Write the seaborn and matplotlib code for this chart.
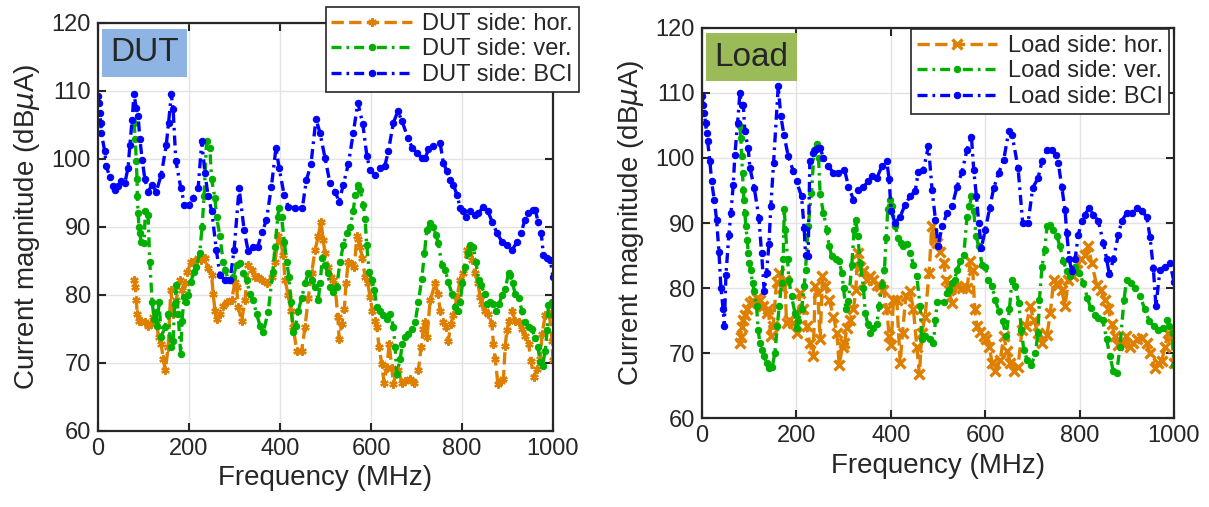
import matplotlib
matplotlib.use('Agg')
from matplotlib import pyplot as plt
import seaborn as sns

# ---- data (frequency MHz, magnitude dBuA) ----
dut_hor = [(79,82.2),(82,81.2),(84,79.2),(86.4,77.2),(90,76.2),(95,76.2),(102.6,76),(110,75.5),(115.7,75.7),(121,76.7),
           (128,76.2),(133,73.8),(139,72.8),(143,70.6),(148,68.9),(154,72.3),(160,80.7),(165,77.2),(172,79.2),(179.5,82.2),
           (184.6,80.7),(190.5,81.7),(196,83.4),(205,84.9),(212,84.9),(220,85.4),(227,85.1),(235,85.4),(242,83.9),(249.5,82.9),
           (253,80.2),(257,77.7),(260.5,76.5),(268,77.2),(275,78.4),(282.5,78.9),(293.5,79.2),(301,81.9),(304.5,81.2),(308,78.2),
           (315.5,76.2),(323,79.2),(330,84.4),(337.5,83.7),(345,82.7),(352,82.7),(359.5,82.2),(370.5,81.7),(381.5,82.7),(389,84.9),
           (396,88.6),(402,87.8),(407,85.9),(411,82.2),(418,80),(424,77.7),(429,75.3),(436.5,71.8),(447.5,71.8),(455,75.3),
           (462,79.5),(469.5,83.2),(477,86.6),(484,88.6),(490,90.8),(495,88.1),(499,86.1),(506,84.1),(512,82.7),(517,82.2),
           (521,81.4),(527,76.7),(530,73.5),(535.6,75.7),(541.5,78),(545,81.7),(550,84.9),(557.6,84.6),(563.5,84.1),(568.6,88.6),
           (572.3,88.3),(576,87.1),(581,85.4),(587,82.7),(593,81.7),(598,79.7),(603,77.7),(609,76.2),(612.6,75.3),(617.8,72.3),
           (623.6,69.9),(628.7,67.1),(634.6,69.3),(640,72.8),(645.6,69.3),(649.3,66.9),(654.4,68.4),(660.3,68.9),(667.6,67.1),(675,67.4),
           (686,67.6),(695.5,67.1),(704.3,68.9),(710,72.3),(715.3,75),(719,76),(723,73.8),(730,79.2),(741,81.7),(747,80.2),
           (752,77.7),(759,76),(764.5,75.3),(770,73.3),(776,75.8),(781,77),(789,79.7),(796,82.2),(803,83.2),(810.7,86.6),
           (818,87.1),(823,85.1),(829,83.2),(835,81.7),(840,79.7),(845,78.7),(851,77.7),(858,77.2),(865.7,75.8),(869,72.8),
           (873,70.6),(879,66.9),(886,67.4),(891,67.6),(895,72.5),(898.7,74.8),(904,76.2),(909.7,77.7),(917,76.2),(924.4,76),
           (931.7,75),(939,74),(946.4,72.8),(952,70.3),(957.4,67.9),(964.8,69.1),(972,70.6),(976,74.3),(983,77),(992,77.2),
           (997.8,73.3),(1000,70.4)]

dut_ver = [(79,105.3),(82,102.9),(84,99.7),(85.7,97),(86.4,94.5),(88,92),(90,90),(91.6,89.1),(95,87.8),(101,87.6),
           (104,92.3),(110,91.8),(113.6,84.9),(119,79),(123,76.5),(127,77.5),(130,75.5),(134,79),(139,73.8),(146.5,75.3),
           (154,77.2),(160,72.3),(165,73.3),(168.5,78.7),(172,81.4),(176,77.2),(181.7,71.3),(184.6,76.2),(189,79.7),(192.7,79),
           (198,80),(203.7,81.9),(211,83.4),(216,84.1),(223.4,86.1),(228.6,90),(233,94.5),(238.5,102.6),(245.8,101.6),(249.5,97),
           (257,94.2),(260.5,91.5),(268,88.6),(275,84.9),(280,83.7),(286,82.2),(297,82.7),(304.5,84.4),(312,84.7),(319,83.2),
           (326.5,82.2),(334,80.2),(341,79.2),(348.5,77.2),(356,75.5),(363,74.5),(374,77.5),(384,83.4),(389,87.1),(395,91.5),
           (397.7,92.8),(403.5,91.5),(409.4,87.8),(414.5,84.9),(419.7,82.7),(424,79),(429,74.5),(434.3,75.5),(440,77.7),(447.5,79.5),
           (455,81.7),(462,83.2),(469.5,82.2),(477,81.2),(484,79.2),(488,81.7),(493,85.4),(499,84.4),(505,83.2),(510,81.2),
           (517,80.4),(524.6,81.2),(532,84.9),(539,87.3),(546.6,89.1),(554,90),(561,92.3),(565,94.7),(571,96.2),(576,95.4),
           (583,93.3),(587,91.1),(590.6,87.3),(596,83.4),(601.6,82.2),(607.5,80.7),(612.6,78.2),(620,77.7),(627.3,77),(634.6,76.5),
           (642,77.2),(649.3,75.3),(653,72.3),(656.6,68.4),(664,70.6),(669,72.8),(675,73.8),(682.3,74.3),(689.6,75),(697,76),
           (704.3,79),(711.6,82.4),(717.5,86.1),(722.6,89.6),(730,90.6),(737.3,90),(742.5,88.8),(748,87.6),(755.7,84.4),(763,83.7),
           (770,81.9),(777.7,80.2),(785,78.2),(791,77.7),(796,79),(801,81.7),(807,84.1),(813,86.1),(818,87.3),(825,87.1),
           (830.5,84.9),(836.4,82.2),(842,81.4),(849.6,80.2),(854.7,78.7),(862,79),(869,78.7),(875,77.7),(881.9,78.7),(887.7,80),
           (895,80.9),(902.4,83.2),(906,82.9),(911,81.7),(917,80.2),(924.4,79.5),(931.7,77.7),(939,76),(946.4,75.3),(953.7,75),
           (961,73.6),(967,72.3),(972,70.1),(977,69.6),(983,71.8),(987,74.8),(990,78.5),(997.8,79),(1000,77)]

dut_bci = [(0,109.3),(1.5,108.3),(3.7,106.8),(5.9,105.3),(7.3,103.8),(14.7,101.1),(18.3,98.9),(25.6,97.4),(33,96),(38,95.5),
           (44,96),(51,96.7),(59,96.5),(66,98.7),(70,102.1),(75,105.8),(79,109.5),(84,107.5),(88,106.3),(92,102.9),
           (97,99.9),(103,97),(110,95.2),(119,96.2),(128,95.2),(139,97.7),(150,102.1),(155,105.3),(161,109.5),(165,107.3),
           (171,99.7),(182,95.7),(190,93.3),(201,93.3),(209,94.2),(220,95.7),(228,102.6),(235,97.9),(242,94.5),(250,92.3),
           (260,86.6),(268,82.9),(279,82.2),(290,82.2),(299,86.6),(310,95.7),(321,89.6),(330,86.4),(341,87.1),(351,87.1),
           (361,89.3),(370,91),(381,95.9),(391,101.6),(398,98.7),(409,94.7),(418,93),(433,92.8),(449,92.8),(458,96.9),
           (468,99.2),(479,105.9),(488,103.8),(499,100.1),(510,96.4),(521,95.2),(530,93.7),(539,96.2),(550,99.2),(561,103.8),
           (571,108.3),(582,105.1),(591,100.4),(598,98.4),(608,97.7),(620,98.7),(630,98.9),(638,101.1),(649,105.3),(659,107),
           (668,105.6),(681,103.1),(691,101.6),(701,100.9),(712,100.1),(719,100.1),(726,101.4),(737,101.9),(752,102.3),(759,99.4),
           (767,98.2),(774,96.9),(781,96.2),(789,94.7),(796,92.8),(803,92.3),(809,91.5),(818,92.3),(828,91.8),(836,92),
           (847,93),(857,92.3),(866,90.8),(877,89.1),(888,87.8),(899,87.3),(910,86.6),(921,87.8),(930,89.1),(938,91),
           (946,92),(955,92.5),(961,92.5),(967,90.8),(974,89.1),(979,85.9),(987,85.4),(994,85.1),(1000,82.7)]

load_hor = [(80,71.5),(82.5,72.5),(84,74),(87.5,75.1),(91,75.9),(94.5,76.7),(101.6,77.7),(108.7,78),(115.7,78.5),(122.8,78.2),
            (129.8,77.2),(136.9,76.2),(140.4,76.7),(146,72.6),(151,74.1),(158,81),(163.7,82.3),(170,80),(175.7,81.3),(179.2,74.6),
            (184.2,75.1),(193.4,74.6),(200.4,73.1),(207.5,79.2),(214.5,76.7),(221.6,74.1),(228.6,71.5),(235.7,69.5),(240,80.3),(245.5,79.2),
            (250.5,72.1),(255.4,81.8),(261,80.3),(269.5,78.2),(278.7,75.6),(285.8,73.1),(290.7,68.2),(297.8,71),(302,71.5),(307,73.8),
            (314,75.1),(321,76.7),(326,79.7),(330.2,85.4),(335.2,83.3),(342.2,82.6),(349.3,81.3),(356.4,81.8),(363.4,81.3),(370.5,80.5),
            (377.5,80.3),(384.6,79.7),(391.6,76.7),(396.6,72.6),(400.8,71.3),(405.8,78.2),(412.8,78.2),(420,68.5),(425,73.1),(431.9,78.7),
            (441,79.5),(448.1,76.7),(455.2,71),(460.8,66.7),(465.8,73.1),(472.8,75.6),(481.3,82.3),(487,89.5),(493.2,87.4),(498.2,86.9),
            (505.3,85.6),(512.3,83.8),(517.2,81.3),(523,79.7),(530,77.7),(540.5,80.3),(551.1,80),(561.7,80),(568.8,84.1),(573.7,82.8),
            (578,76.7),(582.9,74.1),(590,73.3),(597,72.6),(602,72.1),(609,71),(614.6,68.5),(621.7,67.2),(632.3,69),(639.3,72.6),
            (646.4,70.3),(653.5,68.5),(660.5,67.2),(669.7,67.9),(678.2,73.6),(686.6,74.1),(695.8,77.2),(702.9,75.1),(712,73.1),(720.5,71.5),
            (731.1,72.8),(738.2,76.2),(745.2,81.3),(752.3,80.8),(755.1,80.5),(762.2,79.7),(769.3,77.2),(776.3,81.3),(785.5,81.8),(794,82.8),
            (802.4,84.4),(811.6,85.1),(818.7,86.4),(825.7,83.8),(836.3,80.5),(844.8,79.7),(854,78.2),(861,76.7),(868.1,74.4),(875.1,72.6),
            (882.2,71.3),(889.2,71.5),(898.4,72.6),(906.9,71),(914,71.5),(922.4,72.1),(931.6,72.3),(942.2,71.5),(949.2,70),(959.8,67.7),
            (966.9,68.5),(974,68.7),(981,71),(988,73.1),(995.1,72.6),(1000,68.5)]

load_ver = [(80.4,104.9),(82.5,103.1),(84,100.3),(86,97.7),(87.5,95.1),(89,93.6),(91,91.5),(93,89.5),(96,87.4),(98,85.4),
            (100.2,83.8),(103,82.8),(107.2,80.8),(110.8,79.5),(115.7,77.2),(119.2,73.6),(122.8,71.5),(127.7,70.5),(132,69.5),(136.9,68.5),
            (141.8,67.7),(149,67.9),(154.5,70),(159.5,74.1),(163.7,77.2),(168.7,80.8),(172.2,84.4),(174.3,92.1),(177,89),(181.4,84.4),
            (184.2,81.3),(189.8,78.7),(197,76.2),(200.4,73.8),(204,74.9),(211,76.7),(216.6,80.3),(219.5,82.8),(225,89.5),(232,94.6),
            (237.8,101.3),(242.8,102.1),(247,100),(250.5,94.4),(257.5,91.5),(264.6,89),(269.5,86.4),(275.2,84.9),(283.7,84.4),(290.7,84.1),
            (296.4,82.3),(300,80),(305,76.7),(310.5,78),(317.5,83.6),(322.5,89),(326,90.5),(330.2,88),(335.2,83.8),(342.2,80),
            (346,76.2),(351.4,74.4),(356.4,73.1),(363.4,73.8),(370.5,74.4),(375.4,77.2),(381,80.5),(386.7,82.8),(390.2,87.7),(393.8,92.1),
            (398.7,93.6),(403.6,92.6),(409.3,89.5),(416.4,87.7),(422,86.9),(426.9,86.4),(434,86.7),(441,85.4),(448.1,83.6),(455.2,81.8),
            (462.2,77.2),(465.8,72.1),(472.8,72.6),(483.4,72.1),(490.5,71.5),(494.7,75.1),(498.2,77.9),(512.3,77.9),(519.4,79.2),(524.3,79.7),
            (530,80.8),(535.6,81.3),(540.5,82.8),(547.6,84.1),(554.7,85.1),(561.7,91),(566.7,92.6),(570.9,94.1),(575.8,91.8),(580.8,88),
            (586.4,86.4),(593.5,83.6),(600.5,83.3),(606.2,81.3),(614.6,80.3),(621.7,78.2),(628.8,76.4),(637.2,74.9),(644.3,72.6),(651.4,76.7),
            (657,81.3),(664,80.3),(671.1,77.7),(676.8,73.6),(681.7,70.5),(688.8,69),(698,68.2),(706.5,70),(712,73.1),(715,78.2),
            (720.5,83.3),(726.2,85.9),(731.1,89.5),(738.2,89.7),(744.6,89),(751.6,88),(758.7,86.4),(765.8,84.1),(772.8,82.6),(779.8,81.8),
            (790.4,83.3),(799.6,82.3),(808,80.8),(816.5,78.5),(823.6,76.9),(832.8,75.9),(839.8,75.4),(849,75.1),(857.5,72.1),(864.5,69.5),
            (871.6,67.2),(878.7,66.9),(885.7,71),(894.2,78.2),(899.8,81.3),(908.3,80.8),(917.5,80),(928.1,78.7),(938.7,76.7),(947.8,74.9),
            (957.7,74.1),(966.9,73.6),(977.5,73.8),(984.5,75.1),(990.2,74.1),(997.2,73.1),(1000,68.2)]

load_bci = [(0.7,109.5),(2,108.2),(4.9,106.9),(7.7,105.4),(9.8,103.8),(12,102.6),(16.9,99.5),(20.4,96.4),(26,93.6),(31,90.5),
            (36,85.6),(40.2,80),(45,76.7),(47.3,74.1),(50.8,82),(57,88.2),(61.4,91.5),(66.3,95.9),(69.8,100.5),(75.5,105.4),
            (80.4,110),(84,108.2),(87.5,108.2),(91,104.1),(98,101.5),(101.6,98.5),(110.8,95.4),(120.7,90.8),(126.3,85.4),(132,79.5),
            (136.9,82.3),(141.8,86.7),(146,92.6),(151.7,99.2),(161.6,111),(167.2,106.4),(173.6,103.6),(182.8,100.3),(193.4,98),(200.4,96.4),
            (211,94.1),(216.6,89.2),(219.5,85.1),(225,84.9),(228.6,99.5),(235.7,100.8),(240,101.3),(246.3,101.5),(250.5,101.5),(257.5,100),
            (268,98.7),(278.7,97.7),(289.3,97.7),(302,98.2),(310.5,95.6),(321,93.6),(330.2,95.1),(342.2,95.6),(352.8,96.4),(361.3,97.2),
            (370.5,96.9),(381,98.7),(391.6,99.5),(396.6,96.7),(400.8,91.8),(409.3,90),(420,91),(430.5,92.8),(441,94.1),(451.6,94.9),
            (458.7,97.9),(469.3,98.2),(479.9,101.8),(487.6,95.1),(494.7,90.5),(500.3,86.4),(508.8,89.5),(519.4,91.5),(530,92.6),(540.5,95.6),
            (551.1,97.9),(561.7,101.3),(570.9,103.3),(575.8,98.2),(581.5,94.1),(586.4,90),(592,86.2),(600.5,89),(609.7,92.3),(618.2,95.4),
            (628.8,97.7),(639.3,99.7),(650,104.1),(657,103.6),(669.7,98.5),(679.6,90),(690.9,90),(700.8,95.4),(712,96.9),(720.5,99.5),
            (731.1,101.3),(741.7,101.3),(750.2,100.5),(755.1,99.2),(762.2,95.6),(769.3,92),(772.8,88.5),(778.4,84.4),(783.4,82.6),(790.4,84.4),
            (797.5,88.2),(804.6,90.3),(811.6,91.3),(820,92.3),(829.3,91.3),(839.8,90.3),(850.4,87),(857.5,84.4),(863.1,82.1),(871.6,84.4),
            (882.2,88.2),(889.2,90.3),(899.8,91.5),(910.4,91.5),(921,92.3),(931.6,91.8),(942.2,91),(949.2,87.9),(956.3,83.1),(961.9,77.2),
            (970.4,82.8),(981,83.3),(991.6,83.8),(1000,81)]

dut_labels = ['DUT side: hor.', 'DUT side: ver.', 'DUT side: BCI']
load_labels = ['Load side: hor.', 'Load side: ver.', 'Load side: BCI']

ORANGE = '#DE7F00'
GREEN = '#00B000'
BLUE = '#0000FF'

sns.set_style('whitegrid')
plt.rcParams['font.family'] = ['Liberation Sans', 'DejaVu Sans']


def draw_panel(fig, ax, series, labels, hor_marker, tag, tag_color, leg_anchor):
    hor, ver, bci = series
    dashdot = (0, (3, 1.5, 0.8, 1.5))

    # horizontal probe (orange, dashed)
    if hor_marker == 'x':
        mk = dict(marker='x', markersize=7.5, markeredgewidth=2.4)
    else:
        mk = dict(marker=(6, 2, 0), markersize=6, markeredgewidth=1.6)
    sns.lineplot(x=[p[0] for p in hor], y=[p[1] for p in hor], ax=ax, color=ORANGE,
                 linestyle='--', linewidth=2.4, markeredgecolor=ORANGE,
                 label=labels[0], estimator=None, sort=False, **mk)

    sns.lineplot(x=[p[0] for p in ver], y=[p[1] for p in ver], ax=ax, color=GREEN,
                 linestyle=dashdot, linewidth=2.4, marker='o', markersize=4.6,
                 markeredgecolor=GREEN, markerfacecolor=GREEN,
                 label=labels[1], estimator=None, sort=False)

    sns.lineplot(x=[p[0] for p in bci], y=[p[1] for p in bci], ax=ax, color=BLUE,
                 linestyle=dashdot, linewidth=2.4, marker='o', markersize=4.6,
                 markeredgecolor=BLUE, markerfacecolor=BLUE,
                 label=labels[2], estimator=None, sort=False)

    ax.set_xlim(0, 1000)
    ax.set_ylim(60, 120)
    ax.set_xticks(range(0, 1001, 200))
    ax.set_yticks(range(60, 121, 10))
    ax.grid(True, color='#E3E3E3', linewidth=1)
    for s in ax.spines.values():
        s.set_color('#262626')
        s.set_linewidth(1.6)
    ax.tick_params(direction='in', length=6, width=1.5, color='#262626',
                   top=True, right=True, bottom=True, left=True,
                   labelsize=17, labelcolor='#262626', pad=5)

    ax.set_xlabel('Frequency (MHz)', fontsize=20, color='#262626', labelpad=4)
    ax.set_ylabel('Current magnitude (dB$\\mu$A)', fontsize=20, color='#262626', labelpad=7)

    ax.text(0.027, 0.965, tag, transform=ax.transAxes, fontsize=24, va='top', ha='left',
            bbox=dict(facecolor=tag_color, edgecolor='none', boxstyle='square,pad=0.25'))

    leg = ax.legend(loc='upper right', bbox_to_anchor=leg_anchor, bbox_transform=fig.transFigure,
                    fontsize=17, frameon=True, fancybox=False, framealpha=1,
                    edgecolor='#262626', handlelength=3.4, handletextpad=0.45,
                    labelspacing=0.15, borderpad=0.25, borderaxespad=0)
    leg.get_frame().set_linewidth(1.2)


fig = plt.figure(figsize=(12.09, 5.07), dpi=100)
ax1 = fig.add_axes([0.0811, 0.150, 0.3763, 0.8047])
ax2 = fig.add_axes([0.5806, 0.1755, 0.3904, 0.7693])

draw_panel(fig, ax1, (dut_hor, dut_ver, dut_bci), dut_labels, '*', 'DUT', '#8DB4E2',
           (579 / 1209, 1 - 7 / 507))
draw_panel(fig, ax2, (load_hor, load_ver, load_bci), load_labels, 'x', 'Load', '#9BBB59',
           (1169 / 1209, 1 - 29 / 507))

fig.savefig('out.png', dpi=100)
